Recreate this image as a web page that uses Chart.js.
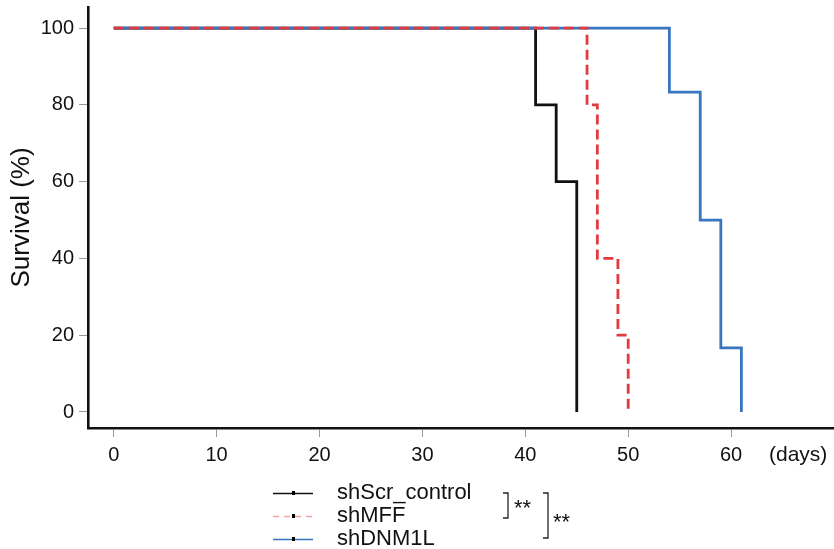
<!DOCTYPE html>
<html>
<head>
<meta charset="utf-8">
<script src="https://cdn.jsdelivr.net/npm/chart.js@4"></script>
<style>
  body { margin: 0; background: #fff; }
  #wrap { width: 834px; height: 549px; }
</style>
</head>
<body>
<div id="wrap"><canvas id="myChart" width="834" height="549"></canvas></div>
<script>
// survival data (days, %)
var groupNames = ['shScr_control', 'shMFF', 'shDNM1L'];
var scrDays = [0, 41, 43, 45];
var scrSurv = [100, 80, 60, 0];
var mffDays = [0, 46, 47, 49, 50];
var mffSurv = [100, 80, 40, 20, 0];
var dnmDays = [0, 54, 57, 59, 61];
var dnmSurv = [100, 83.3, 50, 16.7, 0];
var xTicks = [0, 10, 20, 30, 40, 50, 60];
var yTicks = [0, 20, 40, 60, 80, 100];

var FONT = '"Liberation Sans", Arial, Helvetica, sans-serif';

function toPoints(xs, ys) {
    var pts = [];
    xs.forEach(function(x, i) {
        pts.push({ x: x, y: ys[i] });
    });
    return pts;
}

// legend and significance brackets under the plot
var legendPlugin = {
    id: 'kmLegend',
    afterDraw: function(chart) {
        var ctx = chart.ctx;
        var rows = [493, 516, 539];
        var styles = [
            { color: '#111', dash: [] },
            { color: '#f2a3a8', dash: [6, 5] },
            { color: '#3a75c0', dash: [] }
        ];
        ctx.save();
        ctx.font = '22px ' + FONT;
        ctx.textBaseline = 'middle';
        ctx.textAlign = 'left';
        rows.forEach(function(y, i) {
            ctx.strokeStyle = styles[i].color;
            ctx.lineWidth = 1.3;
            ctx.setLineDash(styles[i].dash);
            ctx.beginPath();
            ctx.moveTo(273, y + 0.5);
            ctx.lineTo(313, y + 0.5);
            ctx.stroke();
            ctx.setLineDash([]);
            ctx.fillStyle = '#000';
            ctx.fillRect(292, y - 2, 3, 4);
            ctx.fillStyle = '#111';
            ctx.fillText(groupNames[i], 337, y);
        });

        // brackets
        ctx.strokeStyle = '#222';
        ctx.lineWidth = 1.3;
        function bracket(x, y1, y2) {
            ctx.beginPath();
            ctx.moveTo(x - 5, y1);
            ctx.lineTo(x, y1);
            ctx.lineTo(x, y2);
            ctx.lineTo(x - 5, y2);
            ctx.stroke();
        }
        bracket(508, 493, 518);
        bracket(548, 493, 538);
        ctx.fillStyle = '#111';
        ctx.font = '22px ' + FONT;
        ctx.textBaseline = 'alphabetic';
        ctx.fillText('**', 514, 515);
        ctx.fillText('**', 553, 529);

        // x axis unit
        ctx.font = '21px ' + FONT;
        ctx.textBaseline = 'middle';
        ctx.fillText('(days)', 769, 455);
        ctx.restore();
    }
};

var ctx = document.getElementById('myChart').getContext('2d');
var chart = new Chart(ctx, {
    type: 'line',
    data: {
        datasets: [{
            label: groupNames[0],
            data: toPoints(scrDays, scrSurv),
            borderColor: '#111111',
            borderWidth: 2.8,
            stepped: true,
            pointRadius: 0,
            order: 2
        }, {
            label: groupNames[1],
            data: toPoints(mffDays, mffSurv),
            borderColor: '#e23b3f',
            borderWidth: 2.8,
            borderDash: [10, 5],
            stepped: true,
            pointRadius: 0,
            order: 0
        }, {
            label: groupNames[2],
            data: toPoints(dnmDays, dnmSurv),
            borderColor: '#3a75c0',
            borderWidth: 2.8,
            stepped: true,
            pointRadius: 0,
            order: 1
        }]
    },
    options: {
        responsive: false,
        animation: false,
        layout: { padding: { top: 7, right: 0, left: 0, bottom: 0 } },
        plugins: {
            legend: { display: false },
            tooltip: { enabled: false }
        },
        scales: {
            x: {
                type: 'linear',
                min: -2.5,
                max: 70,
                afterBuildTicks: function(scale) {
                    scale.ticks = xTicks.map(function(v) { return { value: v }; });
                },
                afterFit: function(scale) {
                    scale.height = 121;
                    scale.paddingLeft = 0;
                    scale.paddingRight = 0;
                },
                grid: { drawOnChartArea: false, drawTicks: true, tickLength: 9, color: '#999', lineWidth: 1 },
                border: { display: true, color: '#111', width: 2.6 },
                ticks: { color: '#111', padding: 6, maxRotation: 0, font: { family: FONT, size: 20 } }
            },
            y: {
                min: -4.17,
                max: 105.5,
                afterBuildTicks: function(scale) {
                    scale.ticks = yTicks.map(function(v) { return { value: v }; });
                },
                afterFit: function(scale) {
                    scale.width = 88;
                    scale.paddingTop = 0;
                    scale.paddingBottom = 0;
                },
                grid: { drawOnChartArea: false, drawTicks: true, tickLength: 9, color: '#999', lineWidth: 1 },
                border: { display: true, color: '#111', width: 2.6 },
                title: { display: true, text: 'Survival (%)', color: '#111', padding: { top: 6, bottom: 0 }, font: { family: FONT, size: 26 } },
                ticks: { color: '#111', padding: 5, font: { family: FONT, size: 20 } }
            }
        }
    },
    plugins: [legendPlugin]
});
</script>
</body>
</html>
